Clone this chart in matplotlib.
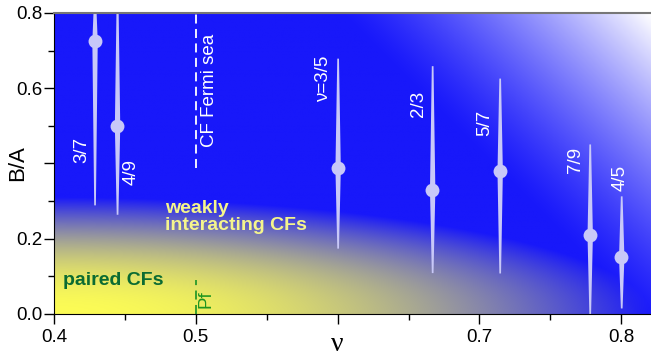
import numpy as np
import matplotlib.pyplot as plt
from matplotlib.colors import to_rgb

plt.rcParams['font.family'] = ['Liberation Sans', 'DejaVu Sans']

# filling factors, B/A values and error bar ranges
nu = [3/7, 4/9, 3/5, 2/3, 5/7, 7/9, 4/5]
ba = [0.725, 0.50, 0.388, 0.33, 0.38, 0.21, 0.152]
ba_lo = [0.29, 0.265, 0.175, 0.11, 0.109, 0.0, 0.016]
ba_hi = [0.85, 0.85, 0.68, 0.66, 0.627, 0.452, 0.314]
labels = ['3/7', '4/9', 'ν=3/5', '2/3', '5/7', '7/9', '4/5']
label_x = [0.4198, 0.4543, 0.59, 0.657, 0.704, 0.7675, 0.799]
label_y = [0.436, 0.378, 0.625, 0.558, 0.508, 0.409, 0.361]

fig = plt.figure(figsize=(6.51, 3.56), dpi=100)
ax = fig.add_axes([0.083, 0.118, 0.917, 0.8455])
xmin, xmax, ymin, ymax = 0.4, 0.821, 0.0, 0.8

# background colour field: yellow corner bottom-left, white corner top-right
xx, yy = np.meshgrid(np.linspace(xmin, xmax, 500), np.linspace(ymin, ymax, 500))
u = (xx - xmin) / (xmax - xmin)
blue = np.array(to_rgb('#1818fa'))
yellow = np.array(to_rgb('#fcfc55'))
white = np.array([1.0, 1.0, 1.0])
wy = np.clip(1 - u ** 2 - (yy / 0.31) ** 2, 0, 1)
ww = np.clip(((xx - 0.4) * 1417.5 + yy * 376.25 - 587) / 311, 0, 1) ** 1.3
img = blue * (1 - wy[..., None]) + yellow * wy[..., None]
img = img * (1 - ww[..., None]) + white * ww[..., None]
ax.imshow(img, extent=[xmin, xmax, ymin, ymax], origin='lower', aspect='auto', zorder=0)

# tapered error bars with dots
bar_col = '#c8c8f8'
for x, y, lo, hi in zip(nu, ba, ba_lo, ba_hi):
    ys = np.linspace(lo, hi, 200)
    d = np.where(ys < y, (y - ys) / max(y - lo, 1e-6), (ys - y) / max(hi - y, 1e-6))
    half = 0.0019 - 0.0013 * d
    ax.fill_betweenx(ys, x - half, x + half, color=bar_col, lw=0, zorder=2)
    ax.plot(x, y, 'o', color=bar_col, ms=10, mec='none', zorder=3)

for x, y, t in zip(label_x, label_y, labels):
    ax.text(x, y, t, color='white', fontsize=13.5, rotation=90, ha='center', va='center', zorder=4)

# CF Fermi sea and Pf markers at nu=1/2
ax.plot([0.5, 0.5], [0.388, 0.8], color='white', lw=1.3, ls=(0, (5, 3)), zorder=2)
ax.text(0.5095, 0.595, 'CF Fermi sea', color='white', fontsize=13.5, rotation=90,
        ha='center', va='center', zorder=4)
ax.plot([0.5, 0.5], [0.0, 0.09], color='#2a9a2a', lw=1.3, ls=(0, (5, 3)), zorder=2)
ax.text(0.5075, 0.04, 'Pf', color='#1f951f', fontsize=13.5, rotation=90,
        ha='center', va='center', zorder=4)

ax.text(0.4785, 0.258, 'weakly\ninteracting CFs', color='#f5f58c', fontsize=14,
        fontweight='bold', ha='left', va='center', linespacing=1.05, zorder=4)
ax.text(0.4063, 0.088, 'paired CFs', color='#0b6b32', fontsize=14,
        fontweight='bold', ha='left', va='center', zorder=4)

ax.set_xlim(xmin, xmax)
ax.set_ylim(ymin, ymax)
ax.set_xticks([0.4, 0.5, 0.6, 0.7, 0.8])
ax.set_xticklabels(['0.4', '0.5', '', '0.7', '0.8'])
ax.set_xticks([0.45, 0.55, 0.65, 0.75], minor=True)
ax.set_yticks([0.0, 0.2, 0.4, 0.6, 0.8])
ax.set_yticklabels(['0.0', '0.2', '', '0.6', '0.8'])
ax.set_yticks([0.1, 0.3, 0.5, 0.7], minor=True)
ax.tick_params(which='major', direction='out', length=7.2, width=1, labelsize=13.5)
ax.tick_params(which='minor', direction='out', length=4, width=1)
ax.tick_params(axis='x', which='major', pad=3.5)
ax.tick_params(axis='y', which='major', pad=1)
ax.spines['right'].set_visible(False)
ax.spines['top'].set_color('#777777')
ax.spines['top'].set_linewidth(1.5)

# axis labels sit where the 0.6 / 0.4 tick labels would be
ax.annotate('ν', xy=(0.6, 0), xycoords=('data', 'axes fraction'),
            xytext=(0, -27), textcoords='offset points', ha='center', va='baseline',
            fontsize=20, family='Liberation Serif')
ax.annotate('B/A', xy=(0, 0.4), xycoords=('axes fraction', 'data'),
            xytext=(-26, 0), textcoords='offset points', ha='center', va='center',
            rotation=90, fontsize=16)

fig.savefig('out.png', dpi=100)
